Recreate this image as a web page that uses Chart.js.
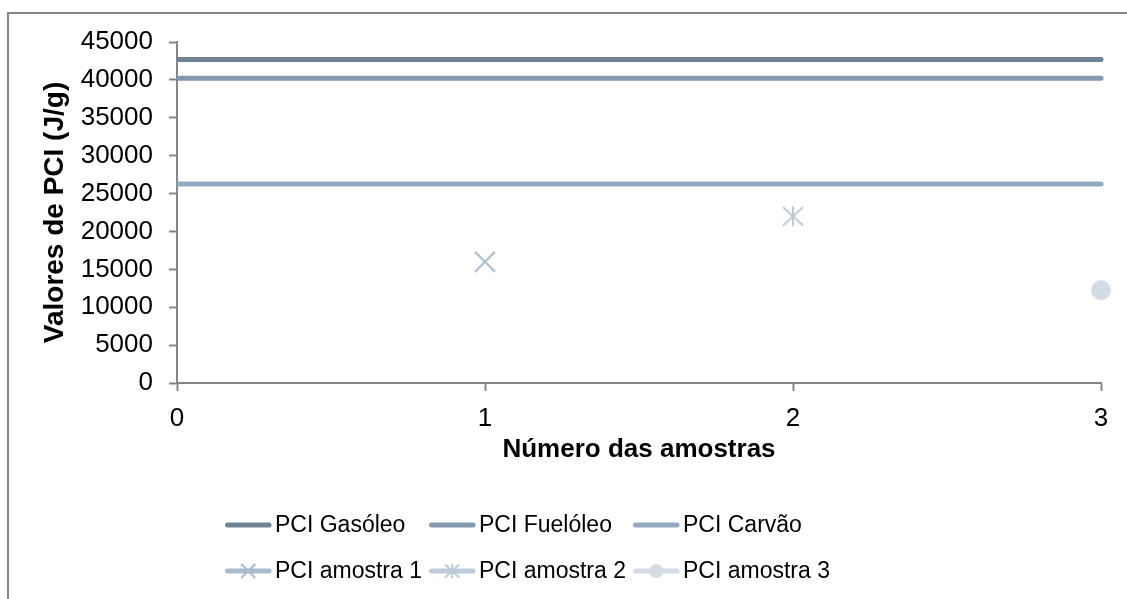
<!DOCTYPE html>
<html>
<head>
<meta charset="utf-8">
<title>Valores de PCI</title>
<script src="https://cdn.jsdelivr.net/npm/chart.js@4.4.0/dist/chart.umd.min.js"></script>
<style>
  html, body { margin: 0; padding: 0; background: #ffffff; }
  #wrap { position: relative; width: 1127px; height: 599px; overflow: hidden; background: #ffffff; }
  #frame { position: absolute; left: 7px; top: 12px; width: 1300px; height: 800px; border: 2px solid #878787; box-sizing: border-box; }
  #chart { position: absolute; left: 0; top: 0; }
</style>
</head>
<body>
<div id="wrap">
  <div id="frame"></div>
  <canvas id="chart" width="1127" height="599"></canvas>
</div>
<script>
// Sample numbers on the x axis and the reference fuels' heating values (J/g)
const sampleNumbers = [0, 1, 2, 3];
const pciGasoleo  = [42700, 42700, 42700, 42700];
const pciFueloleo = [40200, 40200, 40200, 40200];
const pciCarvao   = [26250, 26250, 26250, 26250];

// Measured samples: sample number and PCI value
const amostraNumero = [1, 2, 3];
const amostraPCI    = [16000, 22000, 12250];

// Tick labels
const yTickValues = [0, 5000, 10000, 15000, 20000, 25000, 30000, 35000, 40000, 45000];
const xTickValues = [0, 1, 2, 3];

const seriesNames = ['PCI Gasóleo', 'PCI Fuelóleo', 'PCI Carvão', 'PCI amostra 1', 'PCI amostra 2', 'PCI amostra 3'];
const seriesColors = ['#6f8393', '#8599ad', '#94a9bf', '#a9bbcd', '#bccad9', '#d3dce6'];

const FONT = "'Liberation Sans', Arial, sans-serif";

// Marker images: 'x' (diagonal cross), 'star' (cross with a vertical bar), 'circle'
function makeMarker(kind, half, color, lw) {
  const size = Math.ceil(half * 2 + lw * 2 + 2);
  const c = document.createElement('canvas');
  c.width = size; c.height = size;
  const g = c.getContext('2d');
  const m = size / 2;
  g.strokeStyle = color; g.fillStyle = color; g.lineWidth = lw; g.lineCap = 'butt';
  if (kind === 'x') {
    g.beginPath();
    g.moveTo(m - half, m - half); g.lineTo(m + half, m + half);
    g.moveTo(m + half, m - half); g.lineTo(m - half, m + half);
    g.stroke();
  } else if (kind === 'star') {
    const hy = half * 0.92;
    g.beginPath();
    g.moveTo(m - half, m - hy); g.lineTo(m + half, m + hy);
    g.moveTo(m + half, m - hy); g.lineTo(m - half, m + hy);
    g.moveTo(m, m - half); g.lineTo(m, m + half);
    g.stroke();
  } else {
    g.beginPath();
    g.arc(m, m, half, 0, Math.PI * 2);
    g.fill();
  }
  return c;
}

const markerKinds = ['x', 'star', 'circle'];
const plotMarkers = markerKinds.map((k, i) => makeMarker(k, 10, seriesColors[3 + i], 2));
const legendMarkers = markerKinds.map((k, i) => makeMarker(k, 7, seriesColors[3 + i], 2));

const fuelSeries = [pciGasoleo, pciFueloleo, pciCarvao];

const datasets = [];
fuelSeries.forEach((vals, i) => {
  datasets.push({
    label: seriesNames[i],
    data: sampleNumbers.map((x, j) => ({ x: x, y: vals[j] })),
    borderColor: seriesColors[i],
    backgroundColor: seriesColors[i],
    borderWidth: 5,
    borderCapStyle: 'round',
    pointRadius: 0,
    pointHoverRadius: 0,
    clip: { left: 0, right: 10, top: 10, bottom: 10 }
  });
});
amostraNumero.forEach((n, i) => {
  datasets.push({
    label: seriesNames[3 + i],
    data: [{ x: n, y: amostraPCI[i] }],
    borderColor: seriesColors[3 + i],
    backgroundColor: seriesColors[3 + i],
    showLine: false,
    pointStyle: plotMarkers[i],
    legendMarker: legendMarkers[i],
    pointRadius: 10,
    clip: false
  });
});

// Legend laid out as a fixed grid of three columns
const gridLegend = {
  id: 'gridLegend',
  afterDraw(chart, args, opts) {
    const ctx = chart.ctx;
    ctx.save();
    ctx.font = opts.fontSize + 'px ' + FONT;
    ctx.textBaseline = 'middle';
    ctx.textAlign = 'left';
    chart.data.datasets.forEach((ds, i) => {
      const col = i % opts.columns;
      const row = Math.floor(i / opts.columns);
      const x0 = opts.left + col * opts.colWidth;
      const y = opts.top + row * opts.rowHeight;
      ctx.strokeStyle = ds.borderColor;
      ctx.lineWidth = opts.lineWidth;
      ctx.lineCap = 'round';
      ctx.beginPath();
      ctx.moveTo(x0, y);
      ctx.lineTo(x0 + opts.lineLength, y);
      ctx.stroke();
      if (ds.legendMarker) {
        const mk = ds.legendMarker;
        ctx.drawImage(mk, x0 + opts.lineLength / 2 - mk.width / 2, y - mk.height / 2);
      }
      ctx.fillStyle = '#000000';
      ctx.fillText(ds.label, x0 + opts.lineLength + opts.textGap, y + 1);
    });
    ctx.restore();
  }
};

new Chart(document.getElementById('chart'), {
  type: 'line',
  data: { datasets: datasets },
  plugins: [gridLegend],
  options: {
    responsive: false,
    animation: false,
    devicePixelRatio: 1,
    layout: { padding: { left: 25, right: 26, top: 42, bottom: 134 } },
    plugins: {
      legend: { display: false },
      tooltip: { enabled: false },
      gridLegend: {
        columns: 3, left: 227.5, top: 525, colWidth: 204, rowHeight: 46,
        lineLength: 41.5, lineWidth: 5, textGap: 6, fontSize: 23
      }
    },
    scales: {
      x: {
        type: 'linear',
        min: 0, max: 3,
        afterFit: s => { s.height = 82; },
        afterBuildTicks: s => { s.ticks = xTickValues.map(v => ({ value: v })); },
        ticks: { color: '#000000', padding: 12, font: { family: FONT, size: 26 } },
        grid: { drawOnChartArea: false, drawTicks: true, tickLength: 8, tickColor: '#868686', tickWidth: 2 },
        border: { display: true, color: '#868686', width: 2 },
        title: {
          display: true, text: 'Número das amostras', color: '#000000',
          padding: { top: 0, bottom: 0 },
          font: { family: FONT, size: 26, weight: 'bold', lineHeight: 1.2 }
        }
      },
      y: {
        type: 'linear',
        min: 0, max: 45000,
        afterFit: s => { s.width = 152; },
        afterBuildTicks: s => { s.ticks = yTickValues.map(v => ({ value: v })); },
        ticks: { color: '#000000', padding: 16, font: { family: FONT, size: 26 }, callback: v => String(v) },
        grid: { drawOnChartArea: false, drawTicks: true, tickLength: 8, tickColor: '#868686', tickWidth: 2 },
        border: { display: true, color: '#868686', width: 2 },
        title: {
          display: true, text: 'Valores de PCI (J/g)', color: '#000000',
          padding: { top: 13, bottom: 0 },
          font: { family: FONT, size: 28, weight: 'bold', lineHeight: 1.2 }
        }
      }
    }
  }
});
</script>
</body>
</html>
